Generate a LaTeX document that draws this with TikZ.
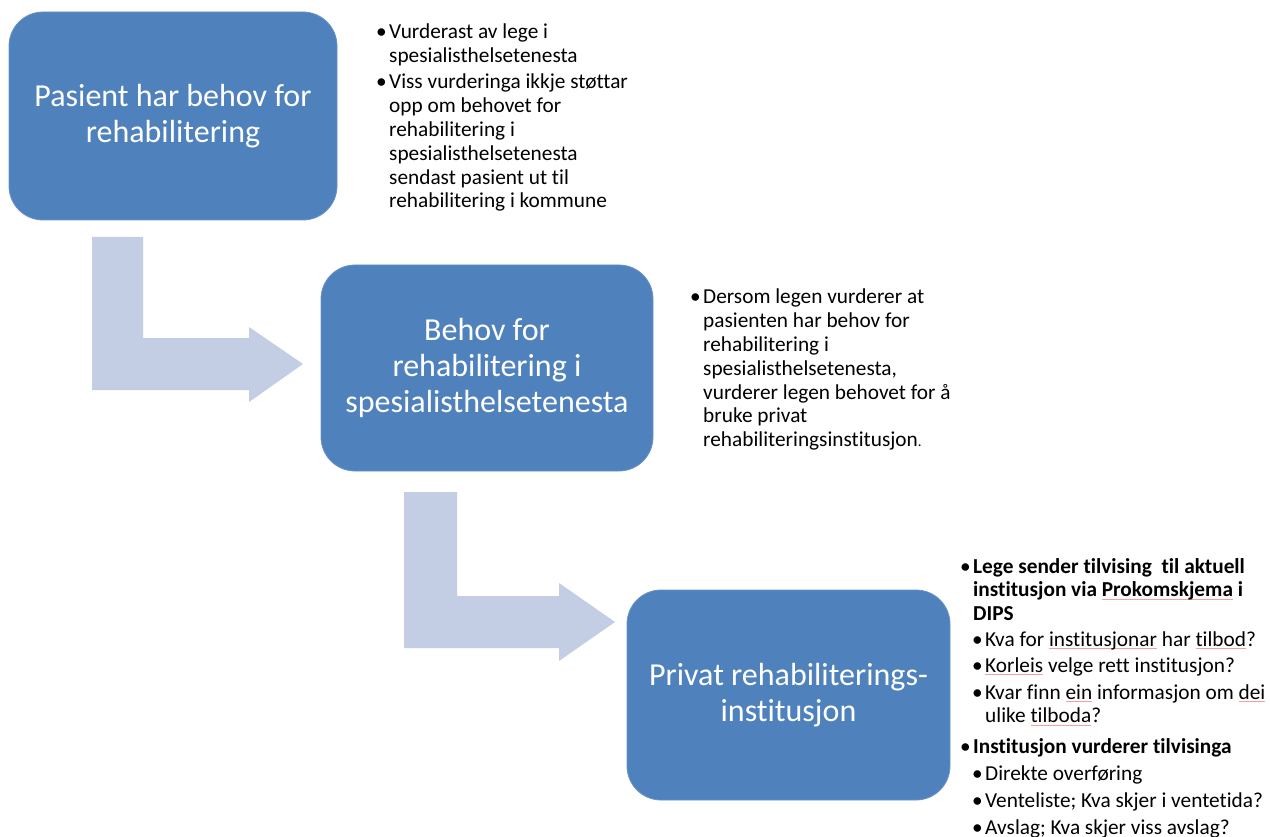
\documentclass[tikz,border=0pt]{standalone}
\usepackage{fontspec}
\setmainfont{Carlito}[Ligatures={NoCommon}]
\definecolor{boxblue}{HTML}{4F81BD}
\definecolor{arrowfill}{HTML}{C3CDE3}
\definecolor{squigred}{HTML}{F4A0A0}
\newsavebox\squigbox
\newcommand\squig[1]{\sbox\squigbox{#1}\rlap{\textcolor{squigred}{\rule[-0.25ex]{\wd\squigbox}{0.6pt}}}\usebox\squigbox}
\newcommand\lst[1]{\parbox[t]{320pt}{\raggedright #1}}
\begin{document}
\begin{tikzpicture}[x=1pt,y=-1pt,
  stepbox/.style={fill=boxblue, draw=boxblue!85!white, line width=0.8pt, rounded corners=34pt,
    text=white, align=center, inner sep=0pt,
    font=\fontsize{32}{36}\selectfont},
  listtext/.style={anchor=base west, inner sep=0pt,
    font=\fontsize{21.3}{23.8}\selectfont},
  bul/.style={anchor=base east, inner sep=0pt, font=\fontsize{21.3}{23.8}\selectfont},
  bentarrow/.style={fill=arrowfill, draw=none}
]
\useasboundingbox (0,0) rectangle (1270,837);
\fill[white] (0,0) rectangle (1270,837);

% bent arrows
\fill[bentarrow] (92,237) -- (143,237) -- (143,338) -- (249,338) -- (249,327) -- (303,364)
  -- (249,402) -- (249,390) -- (92,390) -- cycle;
\fill[bentarrow] (404,492) -- (457,492) -- (457,596) -- (559,596) -- (559,583) -- (615,622)
  -- (559,661) -- (559,648) -- (404,648) -- cycle;

% boxes
\node[stepbox, minimum width=328pt, minimum height=208pt] (b1) at (173,116)
  {Pasient har behov for\\rehabilitering};
\node[stepbox, minimum width=332pt, minimum height=206pt] (b2) at (487,368)
  {Behov for\\rehabilitering i\\spesialisthelsetenesta};
\node[stepbox, minimum width=323pt, minimum height=210pt] (b3) at (788.5,695)
  {Privat rehabiliterings-\\institusjon};

% list 1
\node[bul] (l1a) at (387,39) {\textbullet};
\node[listtext] (t1a) at (389,39) {\lst{Vurderast av lege i\\spesialisthelsetenesta}};
\node[bul] (l1b) at (387,89) {\textbullet};
\node[listtext] (t1b) at (389,89) {\lst{Viss vurderinga ikkje støttar\\opp om behovet for\\rehabilitering i\\spesialisthelsetenesta\\sendast pasient ut til\\rehabilitering i kommune}};

% list 2
\node[bul] (l2a) at (701,304) {\textbullet};
\node[listtext] (t2a) at (703,304) {\lst{Dersom legen vurderer at\\pasienten har behov for\\rehabilitering i\\spesialisthelsetenesta,\\vurderer legen behovet for å\\bruke privat\\rehabiliteringsinstitusjon{\fontsize{15}{18}\selectfont .}}};

% list 3
\node[bul] (l3a) at (971,573) {\textbullet};
\node[listtext, font=\fontsize{21.3}{23.8}\selectfont\bfseries] (t3a) at (973,573)
  {\lst{Lege sender tilvising\ \ til aktuell\\institusjon via \squig{Prokomskjema} i\\DIPS}};
\node[bul] (l3b) at (983,646) {\textbullet};
\node[listtext] (t3b) at (985,646) {Kva for \squig{institusjonar} har \squig{tilbod}?};
\node[bul] (l3c) at (983,672) {\textbullet};
\node[listtext] (t3c) at (985,672) {\squig{Korleis} velge rett institusjon?};
\node[bul] (l3d) at (983,699) {\textbullet};
\node[listtext] (t3d) at (985,699) {\lst{Kvar finn \squig{ein} informasjon om \squig{dei}\\ulike \squig{tilboda}?}};
\node[bul] (l3e) at (971,753) {\textbullet};
\node[listtext, font=\fontsize{21.3}{23.8}\selectfont\bfseries] (t3e) at (973,753)
  {Institusjon vurderer tilvisinga};
\node[bul] (l3f) at (983,780) {\textbullet};
\node[listtext] (t3f) at (985,780) {Direkte overføring};
\node[bul] (l3g) at (983,807) {\textbullet};
\node[listtext] (t3g) at (985,807) {Venteliste; Kva skjer i ventetida?};
\node[bul] (l3h) at (983,834) {\textbullet};
\node[listtext] (t3h) at (985,834) {Avslag; Kva skjer viss avslag?};
\end{tikzpicture}
\end{document}
